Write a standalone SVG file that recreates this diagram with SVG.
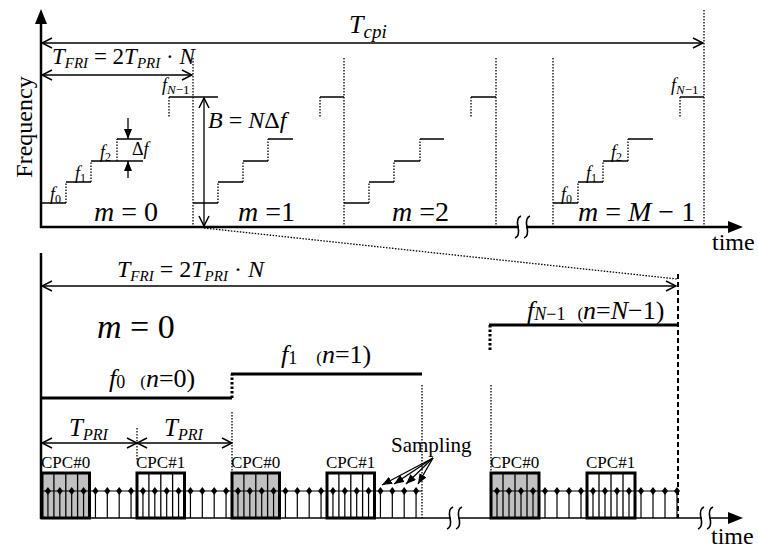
<svg xmlns="http://www.w3.org/2000/svg" width="758" height="550" viewBox="0 0 758 550">
<style>
.ax{stroke:#000;stroke-width:2.5;fill:none}
.ln{stroke:#000;stroke-width:1.3;fill:none}
.st{stroke:#000;stroke-width:1.6;fill:none}
.dt{stroke:#000;stroke-width:1.3;stroke-dasharray:1.5 1.5;fill:none}
.thk{stroke:#000;stroke-width:3;fill:none}
.tdt{stroke:#000;stroke-width:3;stroke-dasharray:2.5 2;fill:none}
.mi{font-family:"Liberation Serif","Times New Roman",serif;font-style:italic;fill:#000}
.rm{font-family:"Liberation Serif","Times New Roman",serif;font-style:normal;fill:#000}
.up{font-style:normal}
.box{stroke:#000;stroke-width:3;fill:none}
.brk{stroke:#000;stroke-width:1.6;fill:none}
</style>
<defs>
<marker id="op" viewBox="-1 -1 13 13" refX="11" refY="6" markerWidth="13" markerHeight="13" markerUnits="userSpaceOnUse" orient="auto-start-reverse"><path d="M1,1 L11,6 L1,11" fill="none" stroke="#000" stroke-width="1.5"/></marker>
<marker id="fl" viewBox="0 0 10 8" refX="10" refY="4" markerWidth="10" markerHeight="8" markerUnits="userSpaceOnUse" orient="auto-start-reverse"><path d="M0,0 L10,4 L0,8Z" fill="#000"/></marker>
<g id="smp"><line x1="0" y1="491" x2="0" y2="518" stroke="#000" stroke-width="1.2"/><path d="M0,487 L3,491 L0,495 L-3,491Z" fill="#000"/></g>
</defs>

<g id="top-chart">
 <g id="top-axes">
  <line class="ax" x1="41" y1="228" x2="41" y2="22"/>
  <polygon points="41,9 35,24 47,24" fill="#000"/>
  <line class="ax" x1="40" y1="227" x2="729" y2="227"/>
  <polygon points="743,227 728,221 728,233" fill="#000"/>
  <rect x="519" y="223" width="7" height="8" fill="#fff"/>
  <path class="brk" d="M515,238 Q520,236 518,227 Q516,218 521,216"/>
  <path class="brk" d="M524,238 Q529,236 527,227 Q525,218 530,216"/>
  <text class="rm" font-size="24" transform="translate(32,127) rotate(-90)" text-anchor="middle">Frequency</text>
  <text class="rm" font-size="24" x="712" y="250">time</text>
 </g>
 <g id="top-bounds">
  <line class="dt" x1="193" y1="58" x2="193" y2="227"/>
  <line class="dt" x1="344" y1="58" x2="344" y2="227"/>
  <line class="dt" x1="496" y1="58" x2="496" y2="227"/>
  <line class="dt" x1="553" y1="58" x2="553" y2="227"/>
  <line class="dt" x1="704" y1="10" x2="704" y2="227"/>
 </g>
 <g id="tcpi">
  <line class="ln" x1="42" y1="43" x2="703" y2="43" marker-start="url(#op)" marker-end="url(#op)"/>
  <text class="mi" font-size="26" x="349" y="33">T<tspan font-size="19" dy="5">cpi</tspan></text>
 </g>
 <g id="tfri-top">
  <line class="ln" x1="42" y1="75" x2="192" y2="75" marker-start="url(#op)" marker-end="url(#op)"/>
  <text class="mi" font-size="23" x="52" y="64">T<tspan font-size="15" dy="4">FRI</tspan><tspan class="up" dy="-4"> = 2</tspan>T<tspan font-size="15" dy="4">PRI</tspan><tspan class="up" dy="-4"> · </tspan>N</text>
 </g>
 <g id="seg-m0">
  <path class="st" d="M42,203 H66 M66,182 H91 M91,161 H143 M117,139 H142 M169,97 H218"/>
  <path class="dt" d="M66,203 V182 M91,182 V161 M117,161 V139 M169,97 V118"/>
  <text class="mi" font-size="18" x="50" y="200">f<tspan font-size="12" dy="3" class="up">0</tspan></text>
  <text class="mi" font-size="18" x="75" y="179">f<tspan font-size="12" dy="3" class="up">1</tspan></text>
  <text class="mi" font-size="18" x="100" y="158">f<tspan font-size="12" dy="3" class="up">2</tspan></text>
  <text class="mi" font-size="18" x="162" y="91">f<tspan font-size="13" dy="3">N</tspan><tspan font-size="13" class="up">−1</tspan></text>
  <text class="mi" font-size="28" x="94" y="221">m<tspan class="up"> = 0</tspan></text>
 </g>
 <g id="delta-f">
  <line class="ln" x1="128" y1="118" x2="128" y2="139" marker-end="url(#fl)"/>
  <line class="ln" x1="128" y1="178" x2="128" y2="161" marker-end="url(#fl)"/>
  <text class="mi" font-size="18" x="132" y="155"><tspan class="up">Δ</tspan>f</text>
 </g>
 <g id="bw">
  <line class="ln" x1="204" y1="98" x2="204" y2="226" marker-start="url(#op)" marker-end="url(#op)"/>
  <text class="mi" font-size="24" x="208" y="128">B<tspan class="up"> = </tspan>N<tspan class="up">Δ</tspan>f</text>
 </g>
 <g id="seg-m1">
  <path class="st" d="M193,203 H218 M218,182 H243 M243,161 H268 M268,139 H293 M320,97 H344"/>
  <path class="dt" d="M218,203 V182 M243,182 V161 M268,161 V139 M320,97 V118"/>
  <text class="mi" font-size="28" x="238" y="221">m<tspan class="up"> =1</tspan></text>
 </g>
 <g id="seg-m2">
  <path class="st" d="M344,203 H369 M369,182 H394 M394,161 H420 M420,139 H444 M471,97 H496"/>
  <path class="dt" d="M369,203 V182 M394,182 V161 M420,161 V139 M471,97 V118"/>
  <text class="mi" font-size="28" x="392" y="221">m<tspan class="up"> =2</tspan></text>
 </g>
 <g id="seg-mM1">
  <path class="st" d="M553,203 H578 M578,182 H603 M603,161 H628 M628,139 H653 M680,97 H704"/>
  <path class="dt" d="M578,203 V182 M603,182 V161 M628,161 V139 M680,97 V118"/>
  <text class="mi" font-size="18" x="561" y="200">f<tspan font-size="12" dy="3" class="up">0</tspan></text>
  <text class="mi" font-size="18" x="586" y="179">f<tspan font-size="12" dy="3" class="up">1</tspan></text>
  <text class="mi" font-size="18" x="611" y="158">f<tspan font-size="12" dy="3" class="up">2</tspan></text>
  <text class="mi" font-size="18" x="671" y="91">f<tspan font-size="13" dy="3">N</tspan><tspan font-size="13" class="up">−1</tspan></text>
  <text class="mi" font-size="28" x="578" y="221">m<tspan class="up"> = </tspan>M<tspan class="up"> − 1</tspan></text>
 </g>
</g>

<g id="connectors">
 <line class="dt" x1="204" y1="228" x2="677" y2="279"/>
</g>

<g id="bottom-chart">
 <g id="bottom-axes">
  <line class="ax" x1="41" y1="253" x2="41" y2="519"/>
  <line x1="40" y1="518" x2="729" y2="518" stroke="#000" stroke-width="1.6"/>
  <polygon points="743,518 728,512 728,524" fill="#000"/>
  <rect x="451" y="514" width="7" height="8" fill="#fff"/>
  <path class="brk" d="M447,529 Q452,527 450,518 Q448,509 453,507"/>
  <path class="brk" d="M456,529 Q461,527 459,518 Q457,509 462,507"/>
  <rect x="702" y="514" width="7" height="8" fill="#fff"/>
  <path class="brk" d="M698,529 Q703,527 701,518 Q699,509 704,507"/>
  <path class="brk" d="M707,529 Q712,527 710,518 Q708,509 713,507"/>
  <text class="rm" font-size="24" x="711" y="544">time</text>
 </g>
 <g id="tfri-bottom">
  <line class="ln" x1="42" y1="286" x2="676" y2="286" marker-start="url(#op)" marker-end="url(#op)"/>
  <line x1="678" y1="274" x2="678" y2="518" stroke="#000" stroke-width="2" stroke-dasharray="5 3"/>
  <text class="mi" font-size="24" x="117" y="277">T<tspan font-size="15" dy="4">FRI</tspan><tspan class="up" dy="-4"> = 2</tspan>T<tspan font-size="15" dy="4">PRI</tspan><tspan class="up" dy="-4"> · </tspan>N</text>
 </g>
 <text class="mi" font-size="34" x="97" y="338">m<tspan class="up"> = 0</tspan></text>
 <g id="f-levels">
  <line class="thk" x1="41" y1="398" x2="232" y2="398"/>
  <line class="tdt" x1="232" y1="398" x2="232" y2="374"/>
  <line class="thk" x1="231" y1="374" x2="422" y2="374"/>
  <line class="thk" x1="489" y1="325" x2="678" y2="325"/>
  <line class="tdt" x1="490" y1="325" x2="490" y2="350"/>
  <text class="mi" font-size="26" x="109" y="387">f<tspan class="up" font-size="18" dy="1">0</tspan><tspan class="up" font-size="17" dy="-1" dx="15">(</tspan>n<tspan class="up">=0)</tspan></text>
  <text class="mi" font-size="26" x="281" y="363">f<tspan class="up" font-size="18" dy="1">1</tspan><tspan class="up" font-size="17" dy="-1" dx="19">(</tspan>n<tspan class="up">=1)</tspan></text>
  <text class="mi" font-size="26" x="527" y="319">f<tspan font-size="18" dy="1">N</tspan><tspan class="up" font-size="18">−1</tspan><tspan class="up" font-size="17" dy="-1" dx="12">(</tspan>n<tspan class="up">=</tspan>N<tspan class="up">−1)</tspan></text>
 </g>
 <g id="guides">
  <line class="dt" x1="232" y1="412" x2="232" y2="473"/>
  <line class="dt" x1="137" y1="428" x2="137" y2="460"/>
  <line class="dt" x1="422" y1="385" x2="422" y2="518"/>
  <line class="dt" x1="491" y1="385" x2="491" y2="473"/>
 </g>
 <g id="tpri">
  <line class="ln" x1="42" y1="443" x2="137" y2="443" marker-start="url(#op)" marker-end="url(#op)"/>
  <line class="ln" x1="137" y1="443" x2="232" y2="443" marker-start="url(#op)" marker-end="url(#op)"/>
  <text class="mi" font-size="25" x="69" y="436">T<tspan font-size="16" dy="4">PRI</tspan></text>
  <text class="mi" font-size="25" x="164" y="436">T<tspan font-size="16" dy="4">PRI</tspan></text>
 </g>
 <g id="cpc-fill">
  <rect x="42" y="473" width="47.5" height="45" fill="#c0c0c0"/>
  <rect x="232" y="473" width="47.5" height="45" fill="#c0c0c0"/>
  <rect x="491" y="473" width="48" height="45" fill="#c0c0c0"/>
  <path class="ln" d="M53.9,473V518 M65.8,473V518 M77.6,473V518 M148.9,473V518 M160.8,473V518 M172.6,473V518 M243.9,473V518 M255.8,473V518 M267.6,473V518 M338.9,473V518 M350.8,473V518 M362.6,473V518 M503,473V518 M515,473V518 M527,473V518 M599,473V518 M611,473V518 M623,473V518"/>
 </g>
 <g id="samples">
  <line x1="42" y1="491" x2="422" y2="491" stroke="#000" stroke-width="1"/>
  <line x1="491" y1="491" x2="678" y2="491" stroke="#000" stroke-width="1"/>
  <use href="#smp" x="47.94"/><use href="#smp" x="59.81"/><use href="#smp" x="71.69"/><use href="#smp" x="83.56"/>
  <use href="#smp" x="95.44"/><use href="#smp" x="107.31"/><use href="#smp" x="119.19"/><use href="#smp" x="131.06"/>
  <use href="#smp" x="142.94"/><use href="#smp" x="154.81"/><use href="#smp" x="166.69"/><use href="#smp" x="178.56"/>
  <use href="#smp" x="190.44"/><use href="#smp" x="202.31"/><use href="#smp" x="214.19"/><use href="#smp" x="226.06"/>
  <use href="#smp" x="237.94"/><use href="#smp" x="249.81"/><use href="#smp" x="261.69"/><use href="#smp" x="273.56"/>
  <use href="#smp" x="285.44"/><use href="#smp" x="297.31"/><use href="#smp" x="309.19"/><use href="#smp" x="321.06"/>
  <use href="#smp" x="332.94"/><use href="#smp" x="344.81"/><use href="#smp" x="356.69"/><use href="#smp" x="368.56"/>
  <use href="#smp" x="380.44"/><use href="#smp" x="392.31"/><use href="#smp" x="404.19"/><use href="#smp" x="416.06"/>
  <use href="#smp" x="497"/><use href="#smp" x="509"/><use href="#smp" x="521"/><use href="#smp" x="533"/>
  <use href="#smp" x="545"/><use href="#smp" x="557"/><use href="#smp" x="569"/><use href="#smp" x="581"/>
  <use href="#smp" x="593"/><use href="#smp" x="605"/><use href="#smp" x="617"/><use href="#smp" x="629"/>
  <use href="#smp" x="641"/><use href="#smp" x="653"/><use href="#smp" x="665"/><use href="#smp" x="677"/>
 </g>
 <g id="cpc-boxes">
  <rect class="box" x="42" y="473" width="47.5" height="45"/>
  <rect class="box" x="137" y="473" width="47.5" height="45"/>
  <rect class="box" x="232" y="473" width="47.5" height="45"/>
  <rect class="box" x="327" y="473" width="47.5" height="45"/>
  <rect class="box" x="491" y="473" width="48" height="45"/>
  <rect class="box" x="587" y="473" width="48" height="45"/>
  <text class="rm" font-size="17" x="41" y="468">CPC#0</text>
  <text class="rm" font-size="17" x="136" y="468">CPC#1</text>
  <text class="rm" font-size="17" x="231" y="468">CPC#0</text>
  <text class="rm" font-size="17" x="326" y="468">CPC#1</text>
  <text class="rm" font-size="17" x="490" y="468">CPC#0</text>
  <text class="rm" font-size="17" x="586" y="468">CPC#1</text>
 </g>
 <g id="sampling">
  <text class="rm" font-size="21" x="391" y="452">Sampling</text>
  <line class="ln" x1="433" y1="458" x2="382" y2="485" marker-end="url(#fl)"/>
  <line class="ln" x1="433" y1="458" x2="394" y2="484" marker-end="url(#fl)"/>
  <line class="ln" x1="433" y1="458" x2="406" y2="484" marker-end="url(#fl)"/>
  <line class="ln" x1="433" y1="458" x2="418" y2="484" marker-end="url(#fl)"/>
 </g>
</g>
</svg>
